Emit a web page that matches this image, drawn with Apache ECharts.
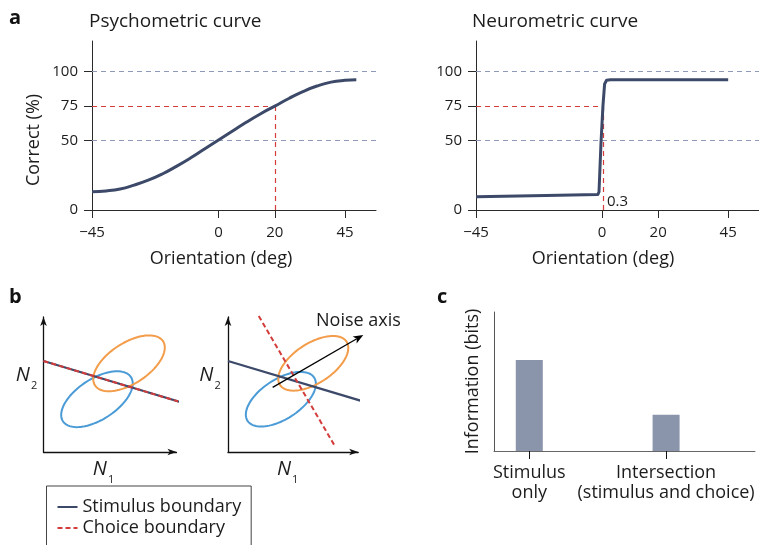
<!DOCTYPE html>
<html>
<head>
<meta charset="utf-8">
<script src="https://cdn.jsdelivr.net/npm/echarts@6/dist/echarts.min.js"></script>
<style>
  html, body { margin: 0; padding: 0; background: #ffffff; }
  #chart { width: 759px; height: 545px; }
</style>
</head>
<body>
<div id="chart"></div>
<script>
// ---- Panel a: psychometric and neurometric curves ----
const psychoOrientation = [-45, -40, -35, -30, -25, -20, -15, -10, -5, 0, 5, 10, 15, 20, 25, 30, 35, 40, 45, 49];
const psychoCorrect     = [13.2, 13.8, 15.2, 18, 21.5, 26, 31.5, 37.5, 44, 50.5, 57, 63.5, 69.5, 75, 80.5, 85.5, 89.5, 92.3, 93.6, 94];
const neuroOrientation  = [-45, -20, -1.5, -1.1, -0.4, 0.3, 0.9, 1.6, 3, 45];
const neuroCorrect      = [9.6, 10.4, 11.2, 13, 48, 75, 91, 93.6, 94, 94];
const thresholds   = [20, 0.3];      // orientation giving the criterion level (psychometric, neurometric)
const criterion    = 75;             // % correct criterion
const refLevels    = [50, 100];      // chance and ceiling
const orientTicks  = [-45, 0, 20, 45];
const correctTicks = [0, 50, 75, 100];

// ---- Panel b: two-neuron response space (N1, N2) ----
const stimBoundaryLeft   = [[0, 6.74], [10.45, 3.65]];
const choiceBoundaryLeft = [[0, 6.74], [10.45, 3.65]];
const stimBoundaryRight  = [[0, 6.74], [10.6, 3.68]];
const choiceBoundaryRight = [[2.36, 10.07], [8.16, 0.52]];
const noiseAxis = [3.43, 4.79, 10.39, 8.67];          // start x, start y, tip x, tip y
const ellipseCentresLeft  = [[4.02, 3.91], [6.43, 6.57]];
const ellipseCentresRight = [[4.06, 3.91], [6.55, 6.57]];
const ellipseSemiAxes = [3.05, 1.53];
const ellipseTilt = 33;
const legendNames = ['Stimulus boundary', 'Choice boundary'];

// ---- Panel c: information ----
const infoCategories = ['Stimulus\nonly', 'Intersection\n(stimulus and choice)'];
const infoValues = [0.655, 0.26];

const FONT = "'Open Sans', 'Noto Sans', sans-serif";
const INK = '#1c1c1c';
const AXIS = '#2a2a2a';
const NAVY = '#3c4969';
const RED = '#d43c3c';
const GREYDASH = '#8f99b8';
const ORANGE = '#f39c4a';
const BLUE = '#4a9bd6';
const BAR = '#8a94ab';
const ellipseColors = [BLUE, ORANGE];

const pair = (xs, ys) => xs.map((x, i) => [x, ys[i]]);
const fmtDeg = v => (v < 0 ? '\u2212' + Math.abs(v) : String(v));
const ellipseData = centres => centres.map(c => [c[0], c[1], ellipseSemiAxes[0], ellipseSemiAxes[1], ellipseTilt]);

function orientationAxis(gi, padRight) {
  return {
    gridIndex: gi, type: 'value', min: -45, max: 56,
    axisLine: { show: true, onZero: false, lineStyle: { color: AXIS, width: 1 } },
    axisTick: { show: true, customValues: orientTicks, length: 8, lineStyle: { color: AXIS } },
    axisLabel: { customValues: orientTicks, formatter: fmtDeg, fontSize: 15, color: INK, fontFamily: FONT, margin: 23, verticalAlign: 'middle' },
    splitLine: { show: false },
    name: 'Orientation (deg)', nameLocation: 'middle', nameGap: 49,
    nameTextStyle: { fontSize: 18, color: INK, fontFamily: FONT, verticalAlign: 'middle', padding: [0, padRight, 0, 0] }
  };
}
function correctAxis(gi, withName) {
  const ax = {
    gridIndex: gi, type: 'value', min: 0, max: 122,
    axisLine: { show: true, onZero: false, lineStyle: { color: AXIS, width: 1 } },
    axisTick: { show: true, customValues: correctTicks, length: 8, lineStyle: { color: AXIS } },
    axisLabel: { customValues: correctTicks, fontSize: 15, color: INK, fontFamily: FONT, margin: 14 },
    splitLine: { show: false }
  };
  if (withName) {
    ax.name = 'Correct (%)';
    ax.nameLocation = 'middle';
    ax.nameGap = 58;
    ax.nameTextStyle = { fontSize: 18, color: INK, fontFamily: FONT, verticalAlign: 'middle', padding: [0, 29, 0, 0] };
  }
  return ax;
}
const nRich = {
  n: { fontSize: 20, fontStyle: 'italic', color: INK, fontFamily: FONT },
  s: { fontSize: 11, color: INK, fontFamily: FONT, padding: [22, 0, 0, 1] }
};
function neuronXAxis(gi, padRight) {
  return {
    gridIndex: gi, type: 'value', min: 0, max: 10,
    axisLine: { show: true, onZero: false, symbol: ['none', 'arrow'], symbolSize: [5, 9], lineStyle: { color: '#111', width: 1.3 } },
    axisTick: { show: false }, axisLabel: { show: false }, splitLine: { show: false },
    name: '{n|N}{s|1}', nameLocation: 'middle', nameGap: 17,
    nameTextStyle: { align: 'center', verticalAlign: 'middle', padding: [0, padRight, 0, 0], rich: nRich }
  };
}
function neuronYAxis(gi, gap) {
  return {
    gridIndex: gi, type: 'value', min: 0, max: 10,
    axisLine: { show: true, onZero: false, symbol: ['none', 'arrow'], symbolSize: [5, 9], lineStyle: { color: '#111', width: 1.3 } },
    axisTick: { show: false }, axisLabel: { show: false }, splitLine: { show: false },
    name: '{n|N}{s|2}', nameLocation: 'middle', nameGap: gap, nameRotate: 0,
    nameTextStyle: { align: 'center', verticalAlign: 'middle', padding: [0, 0, 19, 0], rich: nRich }
  };
}
// Tilted ellipse outline, centre and semi-axes given in axis units
function ellipseItem(params, api) {
  const c = api.coord([api.value(0), api.value(1)]);
  const unit = api.size([1, 1])[0];
  const a = api.value(2) * unit, b = api.value(3) * unit;
  const th = api.value(4) * Math.PI / 180;
  const pts = [];
  for (let k = 0; k <= 96; k++) {
    const t = (k / 96) * 2 * Math.PI;
    const dx = a * Math.cos(t) * Math.cos(th) - b * Math.sin(t) * Math.sin(th);
    const dy = a * Math.cos(t) * Math.sin(th) + b * Math.sin(t) * Math.cos(th);
    pts.push([c[0] + dx, c[1] - dy]);
  }
  return { type: 'polygon', shape: { points: pts }, style: { fill: 'none', stroke: ellipseColors[params.dataIndex], lineWidth: 2 } };
}
// Arrow from (x0, y0) to the tip (x1, y1)
function arrowItem(params, api) {
  const p0 = api.coord([api.value(0), api.value(1)]);
  const p1 = api.coord([api.value(2), api.value(3)]);
  const dx = p1[0] - p0[0], dy = p1[1] - p0[1];
  const len = Math.sqrt(dx * dx + dy * dy);
  const ux = dx / len, uy = dy / len, nx = -uy, ny = ux;
  const L = 10, W = 4;
  const base = [p1[0] - L * ux, p1[1] - L * uy];
  const notch = [p1[0] - 0.75 * L * ux, p1[1] - 0.75 * L * uy];
  return {
    type: 'group',
    children: [
      { type: 'line', shape: { x1: p0[0], y1: p0[1], x2: notch[0], y2: notch[1] }, style: { stroke: '#000', lineWidth: 1.3 } },
      { type: 'polygon', shape: { points: [p1, [base[0] + W * nx, base[1] + W * ny], notch, [base[0] - W * nx, base[1] - W * ny]] }, style: { fill: '#000' } }
    ]
  };
}
const dashGrey = { color: GREYDASH, type: [5, 4], width: 1.2 };
const dashRed = { color: RED, type: [5, 4], width: 1.2 };

const titleStyle = { fontSize: 19, fontWeight: 'normal', color: INK, fontFamily: FONT };
const letterStyle = { fontSize: 20, fontWeight: 'bold', color: '#111', fontFamily: FONT };

const option = {
  animation: false,
  backgroundColor: '#ffffff',
  title: [
    { text: 'a', left: 9, top: 8, padding: 0, textStyle: letterStyle },
    { text: 'Psychometric curve', left: 89, top: 12.5, padding: 0, textStyle: titleStyle },
    { text: 'Neurometric curve', left: 472, top: 12.5, padding: 0, textStyle: titleStyle },
    { text: 'b', left: 9, top: 287, padding: 0, textStyle: letterStyle },
    { text: 'c', left: 437, top: 287, padding: 0, textStyle: letterStyle },
    { text: 'Noise axis', left: 316, top: 312, padding: 0, textStyle: { fontSize: 18, color: INK, fontFamily: FONT, fontWeight: 'normal' } }
  ],
  legend: {
    data: legendNames, orient: 'vertical', left: 46.5, top: 486, height: 90,
    itemWidth: 20, itemHeight: 10, itemGap: 3, padding: [12, 10, 14, 10],
    borderColor: '#444', borderWidth: 1, selectedMode: false,
    itemStyle: { opacity: 0 },
    textStyle: { fontSize: 18, color: INK, fontFamily: FONT }
  },
  grid: [
    { left: 92, top: 41, width: 284, height: 169 },
    { left: 476, top: 41, width: 284, height: 169 },
    { left: 43.5, top: 317, width: 133, height: 135 },
    { left: 228, top: 317, width: 130.2, height: 135 },
    { left: 494, top: 312, width: 261, height: 139 }
  ],
  xAxis: [
    orientationAxis(0, 26),
    orientationAxis(1, 29),
    neuronXAxis(2, 13),
    neuronXAxis(3, 11),
    {
      gridIndex: 4, type: 'value', min: -0.258, max: 1.65,
      axisLine: { show: true, onZero: false, lineStyle: { color: '#666', width: 1 } },
      axisTick: { show: true, customValues: [0, 1], length: 8, lineStyle: { color: '#111' } },
      axisLabel: { customValues: [0, 1], formatter: v => infoCategories[Math.round(v)], fontSize: 18, lineHeight: 20, margin: 12, color: INK, fontFamily: FONT },
      splitLine: { show: false }
    }
  ],
  yAxis: [
    correctAxis(0, true),
    correctAxis(1, false),
    neuronYAxis(2, 17),
    neuronYAxis(3, 18),
    {
      gridIndex: 4, type: 'value', min: 0, max: 1,
      axisLine: { show: true, onZero: false, lineStyle: { color: '#555', width: 1 } },
      axisTick: { show: false }, axisLabel: { show: false }, splitLine: { show: false },
      name: 'Information (bits)', nameLocation: 'middle', nameGap: 21,
      nameTextStyle: { fontSize: 18, color: INK, fontFamily: FONT, verticalAlign: 'middle' }
    }
  ],
  series: [
    {
      name: 'Psychometric', type: 'line', xAxisIndex: 0, yAxisIndex: 0, z: 3, silent: true,
      data: pair(psychoOrientation, psychoCorrect), smooth: true, symbol: 'none',
      lineStyle: { color: NAVY, width: 3 },
      markLine: {
        silent: true, symbol: 'none', z: 1, label: { show: false },
        data: [
          { yAxis: refLevels[0], lineStyle: dashGrey },
          { yAxis: refLevels[1], lineStyle: dashGrey },
          [{ coord: [-45, criterion], lineStyle: dashRed }, { coord: [thresholds[0], criterion] }],
          [{ coord: [thresholds[0], criterion], lineStyle: dashRed }, { coord: [thresholds[0], 0] }]
        ]
      }
    },
    {
      name: 'Neurometric', type: 'line', xAxisIndex: 1, yAxisIndex: 1, z: 3, silent: true,
      data: pair(neuroOrientation, neuroCorrect), symbol: 'none',
      lineStyle: { color: NAVY, width: 3, join: 'round' },
      markLine: {
        silent: true, symbol: 'none', z: 1, label: { show: false },
        data: [
          { yAxis: refLevels[0], lineStyle: dashGrey },
          { yAxis: refLevels[1], lineStyle: dashGrey },
          [{ coord: [-45, criterion], lineStyle: dashRed }, { coord: [thresholds[1], criterion] }],
          [{ coord: [thresholds[1], criterion], lineStyle: dashRed }, { coord: [thresholds[1], 0] }]
        ]
      },
      markPoint: {
        silent: true, symbol: 'circle', symbolSize: 0,
        data: [{ coord: [thresholds[1], 0] }],
        label: { show: true, formatter: String(thresholds[1]), position: [4, -16], align: 'left', verticalAlign: 'top', fontSize: 15, color: INK, fontFamily: FONT }
      }
    },
    {
      name: 'Distributions', type: 'custom', xAxisIndex: 2, yAxisIndex: 2, z: 2, silent: true,
      renderItem: ellipseItem, data: ellipseData(ellipseCentresLeft)
    },
    {
      name: 'Distributions', type: 'custom', xAxisIndex: 3, yAxisIndex: 3, z: 2, silent: true,
      renderItem: ellipseItem, data: ellipseData(ellipseCentresRight)
    },
    {
      name: legendNames[0], type: 'line', xAxisIndex: 2, yAxisIndex: 2, z: 3, silent: true, clip: false,
      data: stimBoundaryLeft, symbol: 'none', color: NAVY, lineStyle: { color: NAVY, width: 2.2 }
    },
    {
      name: legendNames[1], type: 'line', xAxisIndex: 2, yAxisIndex: 2, z: 4, silent: true, clip: false,
      data: choiceBoundaryLeft, symbol: 'none', color: RED, lineStyle: { color: RED, width: 2, type: [5, 3] }
    },
    {
      name: legendNames[0], type: 'line', xAxisIndex: 3, yAxisIndex: 3, z: 3, silent: true, clip: false,
      data: stimBoundaryRight, symbol: 'none', color: NAVY, lineStyle: { color: NAVY, width: 2.2 }
    },
    {
      name: legendNames[1], type: 'line', xAxisIndex: 3, yAxisIndex: 3, z: 4, silent: true, clip: false,
      data: choiceBoundaryRight, symbol: 'none', color: RED, lineStyle: { color: RED, width: 2, type: [5, 3] }
    },
    {
      name: 'Noise axis', type: 'custom', xAxisIndex: 3, yAxisIndex: 3, z: 5, silent: true,
      renderItem: arrowItem, data: [noiseAxis]
    },
    {
      name: 'Information', type: 'bar', xAxisIndex: 4, yAxisIndex: 4, silent: true,
      data: infoValues.map((v, i) => [i, v]), barWidth: 27, itemStyle: { color: BAR }
    }
  ]
};

const chart = echarts.init(document.getElementById('chart'), null, { renderer: 'canvas' });
chart.setOption(option);
</script>
</body>
</html>
